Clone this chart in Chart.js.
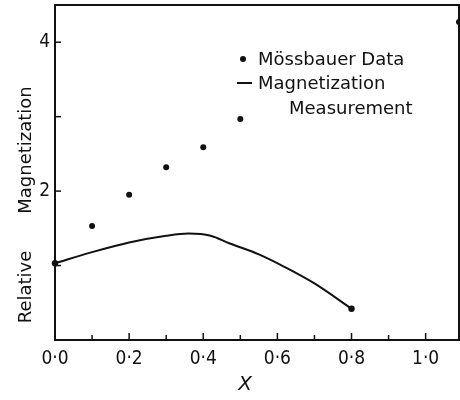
<!DOCTYPE html>
<html>
<head>
<meta charset="utf-8">
<script src="https://cdn.jsdelivr.net/npm/chart.js@4.4.1/dist/chart.umd.min.js"></script>
<style>
  html, body { margin: 0; background: #fff; }
  #wrap { width: 460px; height: 400px; }
</style>
</head>
<body>
<div id="wrap"><canvas id="magChart"></canvas></div>
<script>
// Mossbauer data (dots)
var mossX = [0.1, 0.2, 0.3, 0.4, 0.5, 1.09];
var mossY = [1.53, 1.95, 2.32, 2.59, 2.97, 4.27];

// magnetization measurement (line)
var magX = [0, 0.1, 0.2, 0.3, 0.36, 0.42, 0.47, 0.55, 0.62, 0.7, 0.8];
var magY = [1.03, 1.18, 1.31, 1.40, 1.43, 1.40, 1.30, 1.15, 0.98, 0.76, 0.42];

var xTicks = [0, 0.1, 0.2, 0.3, 0.4, 0.5, 0.6, 0.7, 0.8, 0.9, 1.0];
var xLabels = [0, 0.2, 0.4, 0.6, 0.8, 1.0];
var yTicks = [1, 2, 3, 4];
var yLabels = [2, 4];

var ink = '#111';
var textFont = '"DejaVu Sans", sans-serif';
var tickFont = '"DejaVu Sans Condensed", "DejaVu Sans", sans-serif';

function pts(xs, ys) {
  return xs.map(function (x, i) { return { x: x, y: ys[i] }; });
}
function near(v, list) {
  return list.some(function (l) { return Math.abs(l - v) < 1e-6; });
}
function noPad(s) {
  s.paddingTop = 0; s.paddingBottom = 0; s.paddingLeft = 0; s.paddingRight = 0;
}

// frame, inward ticks and the hand-lettered texts
var decor = {
  id: 'decor',
  afterDraw: function (chart) {
    var c = chart.ctx, a = chart.chartArea;
    var xs = chart.scales.x, ys = chart.scales.y;
    c.save();
    c.strokeStyle = ink;
    c.fillStyle = ink;
    c.lineWidth = 2;
    c.strokeRect(a.left, a.top, a.right - a.left, a.bottom - a.top);

    c.lineWidth = 1.5;
    xs.ticks.forEach(function (t) {
      if (t.value === 0) return;
      var px = xs.getPixelForValue(t.value);
      var len = near(t.value, xLabels) ? 7 : 5;
      c.beginPath();
      c.moveTo(px, a.bottom);
      c.lineTo(px, a.bottom - len);
      c.stroke();
    });
    ys.ticks.forEach(function (t) {
      var py = ys.getPixelForValue(t.value);
      c.beginPath();
      c.moveTo(a.left, py);
      c.lineTo(a.left + 6, py);
      c.stroke();
    });

    // y axis title, two words far apart
    c.font = '18px ' + textFont;
    c.textAlign = 'center';
    c.textBaseline = 'alphabetic';
    c.save();
    c.translate(31, 150);
    c.rotate(-Math.PI / 2);
    c.fillText('Magnetization', 0, 0);
    c.restore();
    c.save();
    c.translate(31, 287);
    c.rotate(-Math.PI / 2);
    c.fillText('Relative', 0, 0);
    c.restore();

    // x axis title
    c.font = 'italic 20px ' + textFont;
    c.textBaseline = 'middle';
    c.fillText('X', 245, 385);

    // legend
    c.font = '18px ' + textFont;
    c.textAlign = 'left';
    c.textBaseline = 'alphabetic';
    c.beginPath();
    c.arc(243, 59, 3, 0, Math.PI * 2);
    c.fill();
    c.fillText('Mössbauer Data', 258, 65);
    c.lineWidth = 2;
    c.beginPath();
    c.moveTo(237, 83);
    c.lineTo(252, 83);
    c.stroke();
    c.fillText('Magnetization', 258, 89);
    c.fillText('Measurement', 289, 114);
    c.restore();
  }
};

var ctx = document.getElementById('magChart').getContext('2d');
var myChart = new Chart(ctx, {
  type: 'scatter',
  data: {
    datasets: [{
      label: 'Mössbauer Data',
      data: pts(mossX, mossY),
      showLine: false,
      pointRadius: 3,
      pointBackgroundColor: ink,
      pointBorderWidth: 0,
      clip: false
    }, {
      label: 'Magnetization Measurement',
      data: pts(magX, magY),
      showLine: true,
      borderColor: ink,
      borderWidth: 2,
      cubicInterpolationMode: 'monotone',
      pointRadius: magX.map(function (x, i) { return (i === 0 || i === magX.length - 1) ? 3.2 : 0; }),
      pointBackgroundColor: ink,
      pointBorderWidth: 0,
      clip: false
    }]
  },
  options: {
    responsive: true,
    maintainAspectRatio: false,
    animation: false,
    layout: { autoPadding: false, padding: { top: 5, right: 1, left: 0, bottom: 0 } },
    plugins: {
      legend: { display: false },
      tooltip: { enabled: false }
    },
    scales: {
      x: {
        type: 'linear',
        min: 0,
        max: 1.09,
        grid: { display: false, drawTicks: false },
        border: { display: false },
        afterBuildTicks: function (s) { s.ticks = xTicks.map(function (v) { return { value: v }; }); },
        afterFit: function (s) { s.height = 60; noPad(s); },
        ticks: {
          autoSkip: false,
          maxRotation: 0,
          padding: 8,
          color: ink,
          font: { family: tickFont, size: 19 },
          callback: function (v) {
            return near(v, xLabels) ? v.toFixed(1).replace('.', '·') : '';
          }
        }
      },
      y: {
        type: 'linear',
        min: 0,
        max: 4.5,
        grid: { display: false, drawTicks: false },
        border: { display: false },
        afterBuildTicks: function (s) { s.ticks = yTicks.map(function (v) { return { value: v }; }); },
        afterFit: function (s) { s.width = 55; noPad(s); },
        ticks: {
          autoSkip: false,
          padding: 5,
          color: ink,
          font: { family: tickFont, size: 19 },
          callback: function (v) { return near(v, yLabels) ? String(v) : ''; }
        }
      }
    }
  },
  plugins: [decor]
});
</script>
</body>
</html>
